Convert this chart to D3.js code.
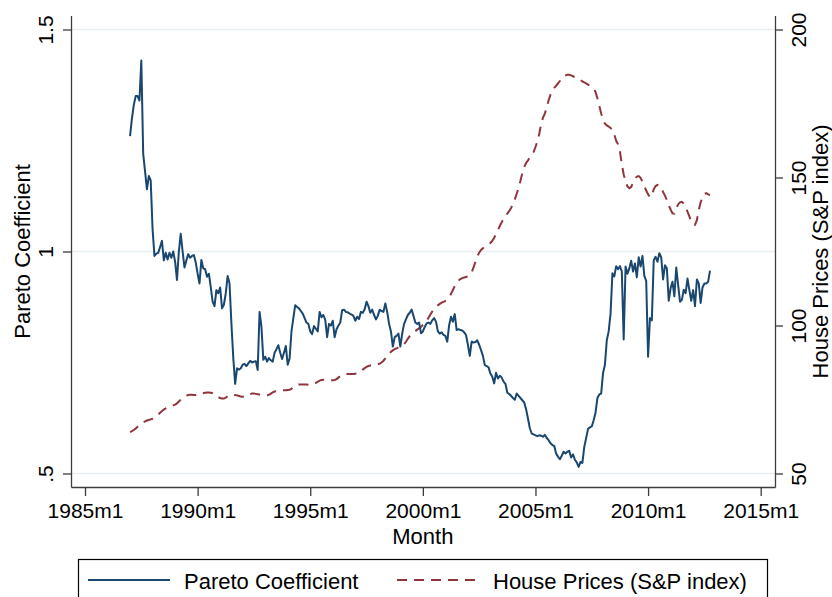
<!DOCTYPE html>
<html><head><meta charset="utf-8">
<script src="https://cdn.jsdelivr.net/npm/d3@7"></script>
<style>
body{margin:0;background:#fff}
svg{display:block}
text{font-family:"Liberation Sans",Arial,Helvetica,sans-serif;fill:#000}
</style>
</head><body>
<svg id="c" width="832" height="597"></svg>
<script>
// ---- data (monthly, starting 1987m1) ----
const startYear = 1987;
const pareto = [
 1.26,1.30,1.33,1.35,1.35,1.34,1.43,1.22,1.18,1.14,1.17,1.16,
 1.05,0.99,0.995,0.997,1.01,1.024,0.98,0.997,0.982,0.997,0.986,1.0,
 0.977,0.936,1.00,1.04,1.00,0.964,0.98,0.994,0.986,0.99,0.992,0.975,
 0.95,0.928,0.981,0.962,0.96,0.943,0.95,0.92,0.887,0.877,0.913,0.906,
 0.919,0.872,0.88,0.906,0.945,0.928,0.838,0.76,0.702,0.737,0.734,0.737,
 0.745,0.747,0.742,0.748,0.754,0.75,0.752,0.753,0.733,0.864,0.831,0.756,
 0.763,0.752,0.76,0.755,0.752,0.772,0.78,0.789,0.772,0.758,0.772,0.787,
 0.745,0.759,0.82,0.85,0.879,0.875,0.872,0.866,0.86,0.85,0.84,0.837,
 0.82,0.814,0.832,0.826,0.82,0.864,0.852,0.857,0.846,0.807,0.837,0.833,
 0.844,0.807,0.825,0.833,0.84,0.868,0.869,0.864,0.863,0.86,0.858,0.855,
 0.844,0.853,0.848,0.864,0.862,0.87,0.887,0.877,0.862,0.869,0.857,0.847,
 0.855,0.869,0.866,0.864,0.883,0.864,0.837,0.82,0.786,0.807,0.81,0.815,
 0.786,0.815,0.837,0.847,0.857,0.862,0.869,0.855,0.84,0.837,0.84,0.816,
 0.82,0.83,0.838,0.84,0.837,0.845,0.85,0.842,0.82,0.815,0.818,0.812,
 0.81,0.797,0.834,0.853,0.842,0.859,0.823,0.825,0.823,0.822,0.818,0.812,
 0.79,0.765,0.797,0.795,0.796,0.80,0.79,0.778,0.765,0.744,0.742,0.739,
 0.725,0.718,0.703,0.727,0.714,0.72,0.716,0.707,0.702,0.682,0.679,0.675,
 0.67,0.666,0.68,0.675,0.67,0.665,0.66,0.645,0.624,0.602,0.59,0.588,
 0.586,0.584,0.586,0.585,0.583,0.587,0.58,0.575,0.568,0.564,0.562,0.545,
 0.538,0.532,0.54,0.549,0.545,0.549,0.551,0.536,0.543,0.531,0.525,0.515,
 0.526,0.524,0.56,0.58,0.6,0.604,0.606,0.62,0.637,0.67,0.678,0.68,
 0.726,0.745,0.80,0.82,0.86,0.951,0.944,0.967,0.96,0.967,0.955,0.802,
 0.966,0.95,0.962,0.979,0.955,0.973,0.942,0.987,0.966,0.99,0.945,0.934,
 0.763,0.85,0.845,0.98,0.988,0.977,0.996,0.987,0.937,0.969,0.962,0.889,
 0.917,0.932,0.899,0.964,0.925,0.887,0.891,0.914,0.906,0.939,0.913,0.889,
 0.913,0.877,0.937,0.928,0.884,0.919,0.928,0.928,0.932,0.957
];
const housePrices = [
 64.0,64.3,64.7,65.2,65.8,66.4,66.9,67.3,67.6,67.9,68.1,68.3,
 68.5,68.8,69.3,69.9,70.5,71.1,71.6,72.0,72.3,72.6,72.8,73.0,
 73.3,73.7,74.3,74.9,75.5,76.0,76.3,76.5,76.6,76.6,76.5,76.5,
 76.5,76.6,76.8,77.1,77.3,77.4,77.4,77.3,77.1,76.7,76.2,75.8,
 75.5,75.3,75.3,75.6,76.1,76.5,76.6,76.6,76.5,76.4,76.2,76.0,
 75.9,75.9,76.1,76.5,76.8,77.0,77.0,76.9,76.8,76.7,76.6,76.5,
 76.4,76.4,76.6,77.0,77.4,77.7,77.8,77.9,78.0,78.1,78.1,78.1,
 78.2,78.3,78.6,79.1,79.6,79.9,80.1,80.1,80.1,80.1,80.1,80.0,
 80.0,80.0,80.2,80.6,81.0,81.4,81.6,81.7,81.7,81.6,81.5,81.5,
 81.5,81.6,81.9,82.4,82.9,83.3,83.5,83.6,83.6,83.6,83.6,83.6,
 83.7,83.8,84.1,84.6,85.1,85.6,86.0,86.3,86.5,86.6,86.7,86.8,
 86.9,87.1,87.5,88.1,88.9,89.8,90.5,91.1,91.6,92.0,92.3,92.6,
 92.9,93.2,93.7,94.5,95.5,96.4,97.1,97.6,98.1,98.6,99.1,99.6,
 100.2,100.7,101.5,102.6,103.7,104.7,105.5,106.2,106.8,107.3,107.7,108.0,
 108.3,108.7,109.5,110.7,112.0,113.3,114.4,115.2,115.7,116.0,116.2,116.4,
 116.6,117.0,118.0,119.6,121.5,123.3,124.6,125.5,126.1,126.6,127.0,127.4,
 127.9,128.6,129.6,130.9,132.3,133.6,134.9,136.0,136.9,137.8,138.7,139.7,
 141.0,142.6,144.5,146.5,148.9,151.5,153.5,154.9,155.8,156.8,157.6,158.6,
 160.3,162.2,164.7,168.0,170.2,171.6,173.8,176.0,178.0,179.3,180.3,181.0,
 181.8,182.6,183.5,184.2,184.5,184.7,184.7,184.5,184.2,183.9,183.6,183.2,
 182.9,182.5,182.1,181.8,181.4,180.9,180.6,180.1,178.9,176.8,174.3,171.6,
 169.6,168.2,167.6,167.2,166.7,166.2,164.6,162.4,161.2,158.8,154.5,151.0,
 148.7,147.0,146.4,146.8,148.4,149.6,150.3,150.5,149.9,148.6,147.1,145.6,
 144.3,143.3,143.9,146.0,147.1,147.5,147.3,146.5,145.1,143.9,142.4,140.6,
 139.2,137.9,137.8,139.4,140.9,141.6,141.8,141.2,139.9,138.5,136.9,135.0,
 134.2,134.0,135.6,139.0,141.6,143.4,144.5,144.7,144.3,144.1
];
const xTicks = [1985,1990,1995,2000,2005,2010,2015];
const xTickLabels = ["1985m1","1990m1","1995m1","2000m1","2005m1","2010m1","2015m1"];
const leftTicks = [0.5,1,1.5];
const leftTickLabels = [".5","1","1.5"];
const rightTicks = [50,100,150,200];
const rightTickLabels = ["50","100","150","200"];
const seriesNames = ["Pareto Coefficient","House Prices (S&P index)"];
const xTitle = "Month", leftTitle = "Pareto Coefficient", rightTitle = "House Prices (S&P index)";

// ---- drawing ----
const svg = d3.select("#c");
const navy = "#1a476f", maroon = "#90353b", axisCol = "#3c3c3c", gridCol = "#e6eef2";
const L = 71, R = 775, T = 15.5, B = 487;
const x = d3.scaleLinear().domain([1984.378, 2015.635]).range([L, R]);
const yL = d3.scaleLinear().domain([0.4696, 1.5315]).range([B, T]);
const yR = d3.scaleLinear().domain([45.44, 204.73]).range([B, T]);

svg.append("rect").attr("width",832).attr("height",597).attr("fill","#fff");

// grid
svg.append("g").selectAll("line").data(leftTicks).join("line")
  .attr("x1", L).attr("x2", R)
  .attr("y1", d => yL(d)).attr("y2", d => yL(d))
  .attr("stroke", gridCol).attr("stroke-width", 1.6);

const tOf = i => startYear + i / 12;

// house prices (dashed)
svg.append("path").datum(housePrices)
  .attr("fill","none").attr("stroke", maroon).attr("stroke-width", 2)
  .attr("stroke-dasharray","10,7")
  .attr("d", d3.line().x((d,i)=>x(tOf(i))).y(d=>yR(d)));

// pareto
svg.append("path").datum(pareto)
  .attr("fill","none").attr("stroke", navy).attr("stroke-width", 2)
  .attr("stroke-linejoin","round")
  .attr("d", d3.line().x((d,i)=>x(tOf(i))).y(d=>yL(d)));

function styleAxis(g){
  g.selectAll(".domain").attr("stroke", axisCol).attr("stroke-width", 1.3);
  g.selectAll(".tick line").attr("stroke", axisCol).attr("stroke-width", 1.3);
  g.selectAll("text").attr("font-family", '"Liberation Sans",Arial,sans-serif').attr("fill","#000");
}

// bottom axis
const gx = svg.append("g").attr("transform",`translate(0,${B})`)
  .call(d3.axisBottom(x).tickValues(xTicks).tickSize(9).tickSizeOuter(0)
    .tickFormat((d,i)=>xTickLabels[i]));
styleAxis(gx);
gx.selectAll("text").attr("y", 31).attr("dy", 0).attr("font-size", 21);

// left axis
const gl = svg.append("g").attr("transform",`translate(${L},0)`)
  .call(d3.axisLeft(yL).tickValues(leftTicks).tickSize(8).tickSizeOuter(0)
    .tickFormat((d,i)=>leftTickLabels[i]));
styleAxis(gl);
gl.selectAll("text").attr("x", 0).attr("y", -18).attr("dy", 0)
  .attr("text-anchor","middle").attr("transform","rotate(-90)").attr("font-size", 21);

// right axis
const gr = svg.append("g").attr("transform",`translate(${R},0)`)
  .call(d3.axisRight(yR).tickValues(rightTicks).tickSize(8).tickSizeOuter(0)
    .tickFormat((d,i)=>rightTickLabels[i]));
styleAxis(gr);
gr.selectAll("text").attr("x", 0).attr("y", 31).attr("dy", 0)
  .attr("text-anchor","middle").attr("transform","rotate(-90)").attr("font-size", 21);

// axis titles
const midY = (yL(1.5) + yL(0.5)) / 2;
svg.append("text").attr("x", x(2000)).attr("y", 544).attr("text-anchor","middle")
  .attr("font-size", 22).text(xTitle);
svg.append("text").attr("transform",`translate(30,${midY}) rotate(-90)`).attr("text-anchor","middle")
  .attr("font-size", 22).text(leftTitle);
svg.append("text").attr("transform",`translate(828,${midY}) rotate(-90)`).attr("text-anchor","middle")
  .attr("font-size", 22).text(rightTitle);

// legend
const lg = svg.append("g");
lg.append("rect").attr("x",78.5).attr("y",559.5).attr("width",689).attr("height",50)
  .attr("fill","#fff").attr("stroke","#000").attr("stroke-width",1.2);
const legItems = [
  {name: seriesNames[0], color: navy, dash: null, x0: 88, x1: 170, tx: 184},
  {name: seriesNames[1], color: maroon, dash: "10,7", x0: 397, x1: 479, tx: 493}
];
legItems.forEach(it => {
  lg.append("line").attr("x1", it.x0).attr("x2", it.x1).attr("y1", 580).attr("y2", 580)
    .attr("stroke", it.color).attr("stroke-width", 2).attr("stroke-dasharray", it.dash);
  lg.append("text").attr("x", it.tx).attr("y", 589).attr("font-size", 22).text(it.name);
});
</script>
</body></html>
